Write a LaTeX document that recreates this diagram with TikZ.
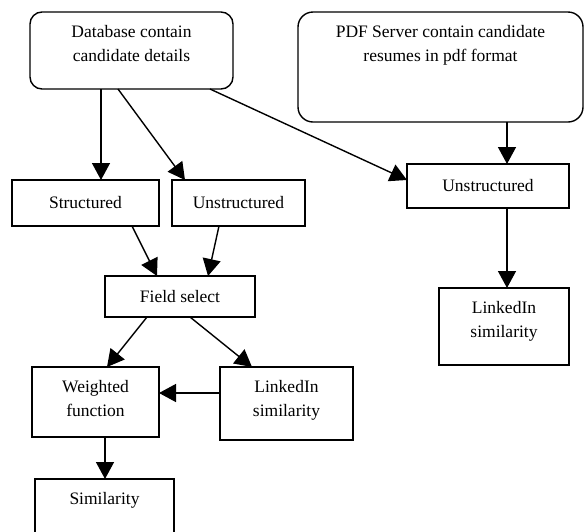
\documentclass[tikz,border=0pt]{standalone}
\usepackage{fontspec}
\setmainfont{Liberation Serif}
\usetikzlibrary{arrows.meta}
\tikzset{
  box/.style={draw, line width=1.4pt, inner sep=0pt, outer sep=0pt},
  roundbox/.style={box, rounded corners=12pt},
  boxtext/.style={align=center, inner sep=0pt, font=\fontsize{17.5}{23.5}\selectfont},
  toptext/.style={boxtext, anchor=north, yshift=-13.5pt},
  flow/.style={line width=1.4pt, -{Triangle[length=17pt,width=18pt]}},
}
\begin{document}
\begin{tikzpicture}[x=1pt, y=-1pt]
\clip (0,0) rectangle (584,531);

% Source boxes
\node [roundbox, minimum width=203pt, minimum height=77pt,
       label={[toptext]north:Database contain\\candidate details}] (db) at (131.5,50.5) {};
\node [roundbox, rounded corners=15pt, minimum width=285pt, minimum height=110pt,
       label={[toptext]north:PDF Server contain candidate\\resumes in pdf format}] (pdf) at (440.5,67) {};

% Split of the database data
\node [box, boxtext, minimum width=147pt, minimum height=46pt] (st) at (85.5,203) {Structured};
\node [box, boxtext, minimum width=133pt, minimum height=46pt] (unl) at (238.5,203) {Unstructured};

% Resume data
\node [box, boxtext, minimum width=162pt, minimum height=44pt] (unr) at (488,186) {Unstructured};
\node [box, minimum width=130pt, minimum height=77pt,
       label={[toptext]north:LinkedIn\\similarity}] (lir) at (504,326.5) {};

% Field selection and scoring
\node [box, boxtext, minimum width=150pt, minimum height=41pt] (fs) at (180,296.5) {Field select};
\node [box, minimum width=127pt, minimum height=70pt,
       label={[toptext]north:Weighted\\function}] (wf) at (95.5,402) {};
\node [box, minimum width=133pt, minimum height=73pt,
       label={[toptext]north:LinkedIn\\similarity}] (lil) at (286.5,403.5) {};
\node [box, minimum width=139pt, minimum height=66pt,
       label={[toptext]north:Similarity}] (sim) at (104.5,512) {};

% Connectors
\draw [flow] ([xshift=-30.5pt]db.south) -- ([xshift=15.5pt]st.north);
\draw [flow] ([xshift=-13.5pt]db.south) -- ([xshift=-53.5pt]unl.north);
\draw [flow] ([xshift=78.5pt]db.south) -- ([yshift=6pt]unr.west);
\draw [flow] ([xshift=66.5pt]pdf.south) -- ([xshift=19pt]unr.north);
\draw [flow] ([xshift=46.5pt]st.south) -- ([xshift=-23pt]fs.north);
\draw [flow] ([xshift=-19.5pt]unl.south) -- ([xshift=28pt]fs.north);
\draw [flow] ([xshift=19pt]unr.south) -- ([xshift=3pt]lir.north);
\draw [flow] ([xshift=-33pt]fs.south) -- ([xshift=11.5pt]wf.north);
\draw [flow] ([xshift=10pt]fs.south) -- ([xshift=-34.5pt]lil.north);
\draw [flow] ([yshift=10.5pt]lil.west) -- ([yshift=9pt]wf.east);
\draw [flow] ([xshift=9.5pt]wf.south) -- ([xshift=0.5pt]sim.north);
\end{tikzpicture}
\end{document}
